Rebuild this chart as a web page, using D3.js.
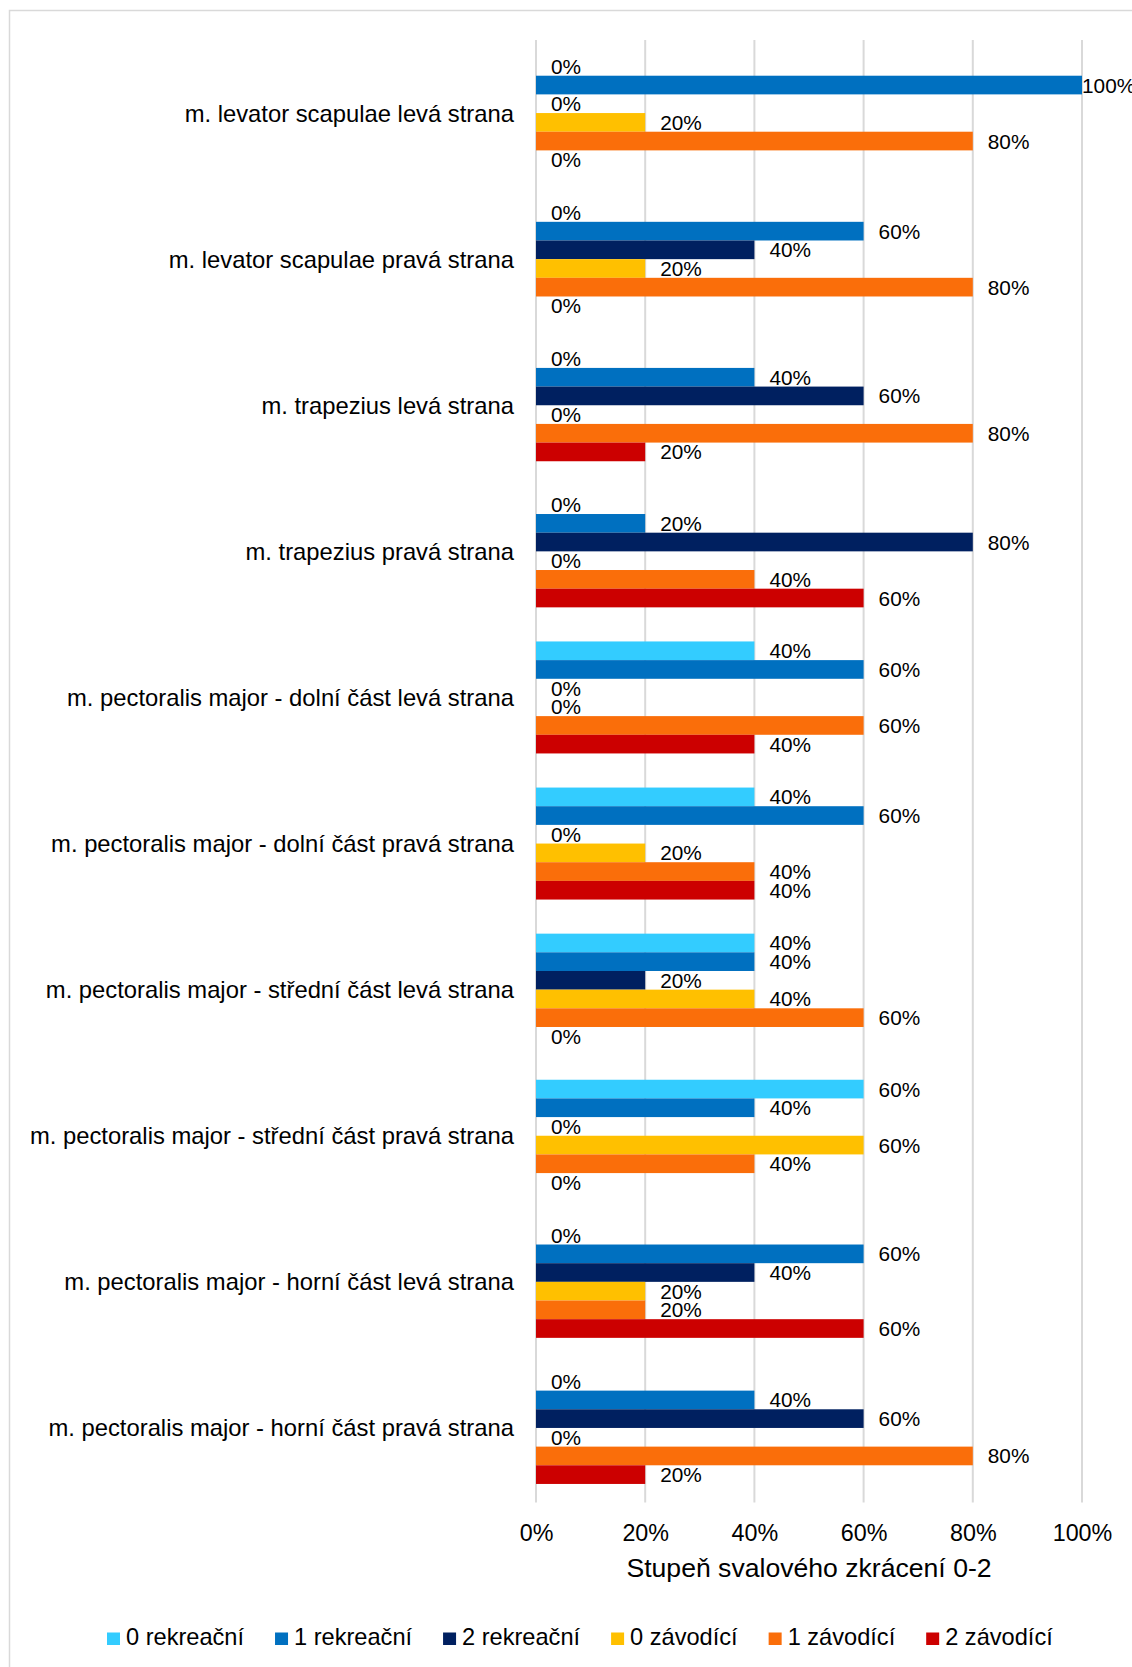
<!DOCTYPE html>
<html>
<head>
<meta charset="utf-8">
<script src="https://cdn.jsdelivr.net/npm/d3@7"></script>
<style>
  html, body { margin: 0; padding: 0; background: #fff; }
  svg { display: block; font-family: "Liberation Sans", Arial, sans-serif; }
</style>
</head>
<body>
<svg id="chart" width="1132" height="1667"></svg>
<script>
// Muscle groups (listed top to bottom)
const categories = [
  "m. levator scapulae levá strana",
  "m. levator scapulae pravá strana",
  "m. trapezius levá strana",
  "m. trapezius pravá strana",
  "m. pectoralis major - dolní část levá strana",
  "m. pectoralis major - dolní část pravá strana",
  "m. pectoralis major - střední část levá strana",
  "m. pectoralis major - střední část pravá strana",
  "m. pectoralis major - horní část levá strana",
  "m. pectoralis major - horní část pravá strana"
];

// Series: degree of shortening (0-2) for recreational and competitive groups
const seriesNames = ["0 rekreační", "1 rekreační", "2 rekreační", "0 závodící", "1 závodící", "2 závodící"];
const seriesColors = ["#33CCFF", "#0070C0", "#002060", "#FFC000", "#FA6E0A", "#CC0000"];

// Percentages per series, one value per muscle group
const rek0 = [0, 0, 0, 0, 40, 40, 40, 60, 0, 0];
const rek1 = [100, 60, 40, 20, 60, 60, 40, 40, 60, 40];
const rek2 = [0, 40, 60, 80, 0, 0, 20, 0, 40, 60];
const zav0 = [20, 20, 0, 0, 0, 20, 40, 60, 20, 0];
const zav1 = [80, 80, 80, 40, 60, 40, 60, 40, 20, 80];
const zav2 = [0, 0, 20, 60, 40, 40, 0, 0, 60, 20];

const tickValues = [0, 20, 40, 60, 80, 100];
const axisTitle = "Stupeň svalového zkrácení 0-2";

const seriesValues = [rek0, rek1, rek2, zav0, zav1, zav2];

const svg = d3.select("#chart");
const plot = { left: 536, right: 1082, top: 40, bottom: 1501 };

// Chart frame (right and bottom edges fall outside the page)
svg.append("rect")
  .attr("x", 9.5).attr("y", 10.5)
  .attr("width", 1200).attr("height", 1700)
  .attr("fill", "#fff")
  .attr("stroke", "#d9d9d9").attr("stroke-width", 1.5);

const x = d3.scaleLinear().domain([0, 100]).range([plot.left, plot.right]);
const y = d3.scaleBand().domain(categories)
  .range([plot.top, plot.bottom])
  .paddingInner(0.2334).paddingOuter(0.1167);
const ySub = d3.scaleBand().domain(seriesNames).range([0, y.bandwidth()]).padding(0);

// Vertical gridlines
svg.append("g").selectAll("line")
  .data(tickValues)
  .join("line")
  .attr("x1", d => x(d)).attr("x2", d => x(d))
  .attr("y1", plot.top).attr("y2", plot.bottom + 1.5)
  .attr("stroke", "#d9d9d9").attr("stroke-width", 2);

// Bars
const rows = categories.map((c, i) => ({
  cat: c,
  vals: seriesNames.map((s, j) => ({ s, j, v: seriesValues[j][i] }))
}));

const groups = svg.append("g").selectAll("g")
  .data(rows)
  .join("g")
  .attr("transform", d => `translate(0,${y(d.cat)})`);

groups.selectAll("rect")
  .data(d => d.vals)
  .join("rect")
  .attr("x", x(0))
  .attr("y", d => ySub(d.s))
  .attr("width", d => x(d.v) - x(0))
  .attr("height", ySub.bandwidth())
  .attr("fill", d => seriesColors[d.j]);

// Value labels
groups.selectAll("text")
  .data(d => d.vals)
  .join("text")
  .attr("x", d => Math.min(x(d.v) + 15, x(100)))
  .attr("y", d => ySub(d.s) + ySub.bandwidth() / 2 + 7.5)
  .attr("font-size", 20.8)
  .attr("fill", "#000")
  .text(d => d.v + "%");

// Category labels
svg.append("g").selectAll("text")
  .data(categories)
  .join("text")
  .attr("x", 514)
  .attr("y", d => y(d) + y.bandwidth() / 2 + 8.5)
  .attr("text-anchor", "end")
  .attr("font-size", 23.8)
  .attr("fill", "#000")
  .text(d => d);

// X axis tick labels
const xAxis = d3.axisBottom(x)
  .tickValues(tickValues)
  .tickFormat(d => d + "%")
  .tickSize(0)
  .tickPadding(21.5);
const axisG = svg.append("g")
  .attr("transform", `translate(0,${plot.bottom + 1.5})`)
  .call(xAxis);
axisG.select(".domain").remove();
axisG.selectAll("text")
  .attr("font-size", 23.3)
  .attr("font-family", "\"Liberation Sans\", Arial, sans-serif")
  .attr("fill", "#000");

// Axis title
svg.append("text")
  .attr("x", (plot.left + plot.right) / 2)
  .attr("y", 1576.5)
  .attr("text-anchor", "middle")
  .attr("font-size", 26.6)
  .attr("fill", "#000")
  .text(axisTitle);

// Legend
const legend = svg.append("g").attr("transform", "translate(107,1645)");
let lx = 0;
seriesNames.forEach((name, i) => {
  const item = legend.append("g").attr("transform", `translate(${lx},0)`);
  item.append("rect")
    .attr("x", 0).attr("y", -12.5)
    .attr("width", 13).attr("height", 12.5)
    .attr("fill", seriesColors[i]);
  const t = item.append("text")
    .attr("x", 19).attr("y", 0)
    .attr("font-size", 23.6)
    .attr("fill", "#000")
    .text(name);
  lx += 19 + t.node().getComputedTextLength() + 31;
});
</script>
</body>
</html>
